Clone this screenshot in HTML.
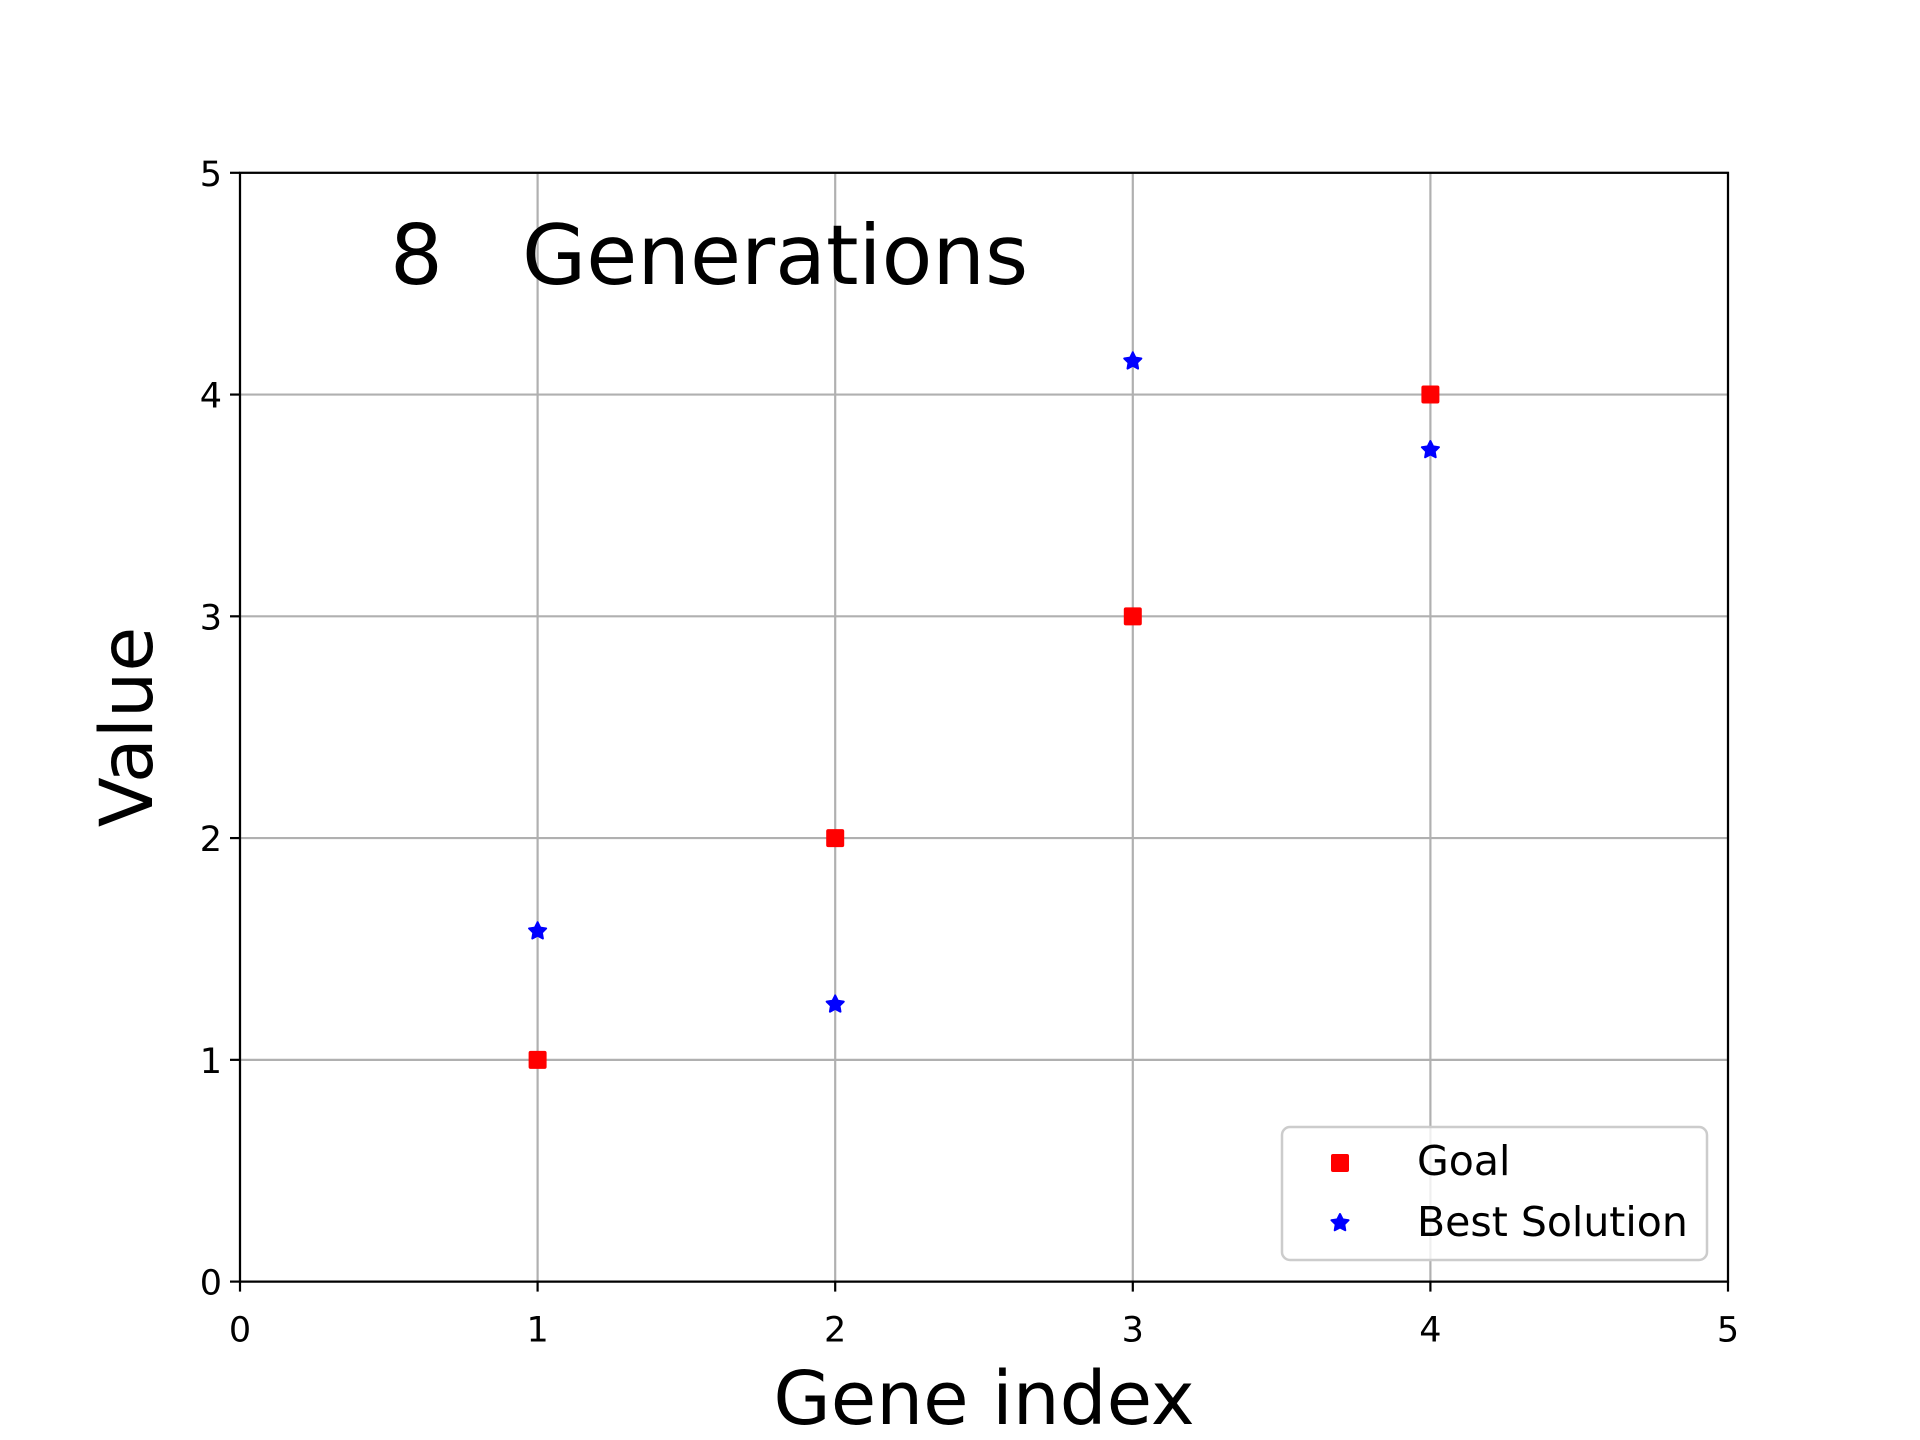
<!DOCTYPE html>
<html><head><meta charset="utf-8">
<style>html,body{margin:0;padding:0;background:#fff;}svg{display:block;}text{font-family:"DejaVu Sans","Liberation Sans",sans-serif;}</style>
</head><body>
<svg id="chart" width="1920" height="1440" viewBox="0 0 1920 1440" xmlns="http://www.w3.org/2000/svg">
<rect width="1920" height="1440" fill="#fff"/>
<g id="grid"></g>
<g id="marks"></g>
<rect x="240" y="172.8" width="1488" height="1108.8" fill="none" stroke="#000" stroke-width="2.2"/>
<g id="ticks"></g>
<text x="390" y="284" font-size="83" xml:space="preserve">8   Generations</text>
<text x="984" y="1424" font-size="74" text-anchor="middle">Gene index</text>
<text transform="translate(152,727) rotate(-90)" font-size="73" text-anchor="middle">Value</text>
<g>
<rect x="1282" y="1127" width="425" height="133" rx="8" fill="#fff" fill-opacity="0.8" stroke="#ccc" stroke-width="2.5"/>
<rect x="1331" y="1154" width="18" height="18" rx="2" fill="#f00"/>
<text x="1417" y="1175" font-size="41">Goal</text>
<path id="legstar" fill="#00f" stroke="#00f" stroke-width="2" stroke-linejoin="round"/>
<text x="1417" y="1236" font-size="41">Best Solution</text>
</g>
</svg>
<script>
const goalX = [1, 2, 3, 4];
const goalY = [1, 2, 3, 4];
const bestX = [1, 2, 3, 4];
const bestY = [1.58, 1.25, 4.15, 3.75];
const xTicks = [0, 1, 2, 3, 4, 5];
const yTicks = [0, 1, 2, 3, 4, 5];

const L=240,R=1728,T=172.8,B=1281.6;
const sx=v=>L+(v-0)/(5-0)*(R-L);
const sy=v=>B-(v-0)/(5-0)*(B-T);
const NS='http://www.w3.org/2000/svg';
function mk(tag,attrs,parent){const e=document.createElementNS(NS,tag);for(const k in attrs)e.setAttribute(k,attrs[k]);parent.appendChild(e);return e;}
function star(cx,cy,r){let d='';for(let i=0;i<10;i++){const a=-Math.PI/2+i*Math.PI/5;const rr=i%2?r*0.5:r;d+=(i?'L':'M')+(cx+rr*Math.cos(a)).toFixed(2)+','+(cy+rr*Math.sin(a)).toFixed(2);}return d+'Z';}
const grid=document.getElementById('grid'),ticks=document.getElementById('ticks'),marks=document.getElementById('marks');
xTicks.forEach(v=>{
  const x=sx(v);
  const g=mk('line',{x1:x,x2:x,y1:T,y2:B,stroke:'#b0b0b0','stroke-width':2.2},grid);
  
  
  const t=mk('line',{x1:x,x2:x,y1:B,y2:B+10,stroke:'#000','stroke-width':2.2},ticks);
  
  
  const l=mk('text',{x:x,y:B+60,'font-size':35,'text-anchor':'middle'},ticks);
  l.textContent=v;
  
  
});
yTicks.forEach(v=>{
  const y=sy(v);
  const g=mk('line',{x1:L,x2:R,y1:y,y2:y,stroke:'#b0b0b0','stroke-width':2.2},grid);
  
  
  const t=mk('line',{x1:L-10,x2:L,y1:y,y2:y,stroke:'#000','stroke-width':2.2},ticks);
  
  
  const l=mk('text',{x:L-18,y:y+13,'font-size':35,'text-anchor':'end'},ticks);
  l.textContent=v;
  
  
});
goalX.forEach((v,i)=>{
  const r=mk('rect',{x:sx(v)-9,y:sy(goalY[i])-9,width:18,height:18,rx:2,fill:'#f00'},marks);
  
  
});
bestX.forEach((v,i)=>{
  const p=mk('path',{d:star(sx(v),sy(bestY[i]),9),fill:'#00f',stroke:'#00f','stroke-width':2,'stroke-linejoin':'round'},marks);
  
  
});
document.getElementById('legstar').setAttribute('d',star(1340,1223,9));
</script>
</body></html>
